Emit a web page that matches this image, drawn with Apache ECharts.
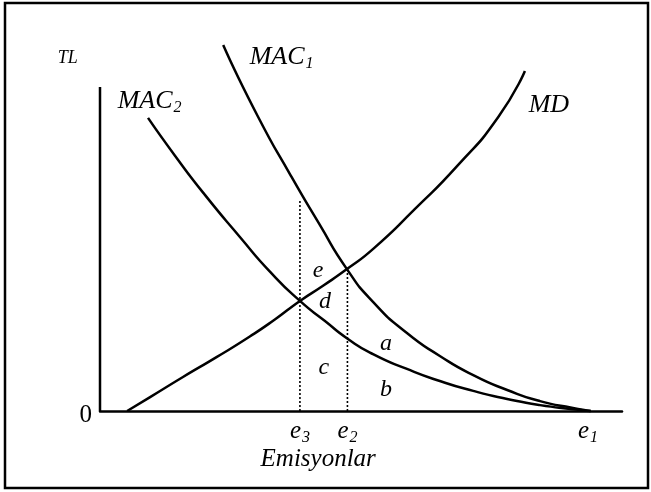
<!DOCTYPE html>
<html>
<head>
<meta charset="utf-8">
<script src="https://cdn.jsdelivr.net/npm/echarts@6/dist/echarts.min.js"></script>
<style>
  html, body { margin: 0; padding: 0; background: #fff; }
  #chart { width: 651px; height: 492px; }
</style>
</head>
<body>
<div id="chart"></div>
<script>
// curves: [emissions, TL]
var mac1 = [[2.36, 11.84], [3.03, 9.51], [3.66, 7.60], [4.20, 6.05], [4.73, 4.59], [5.23, 3.53],
  [5.88, 2.52], [6.51, 1.78], [7.15, 1.16], [7.80, 0.68], [8.43, 0.32], [9.06, 0.10], [9.40, 0]];
var mac2 = [[0.92, 9.48], [1.44, 8.25], [2.01, 6.99], [2.68, 5.63], [3.26, 4.50], [3.83, 3.56],
  [4.31, 2.91], [4.75, 2.33], [5.23, 1.84], [5.88, 1.36], [6.51, 0.97], [7.15, 0.65], [7.80, 0.39],
  [8.43, 0.19], [9.06, 0.06], [9.40, 0]];
var md = [[0.52, 0], [0.96, 0.45], [1.59, 1.10], [2.24, 1.75], [2.87, 2.41], [3.35, 2.96], [3.83, 3.56],
  [4.28, 4.06], [4.73, 4.59], [5.25, 5.27], [6.03, 6.53], [6.84, 7.92], [7.63, 9.51], [8.14, 11.00]];

// emission levels on the x axis
var eLevels = [3.83, 4.74, 9.35];
var eSubs = ['3', '2', '1'];
var yTop = 10.48;
var e3Top = 6.85;
var e2Top = 4.59;

// text annotations
var labelTexts = ['TL', 'MAC', 'MAC', 'MD', 'e', 'd', 'a', 'c', 'b', 'Emisyonlar'];
var labelSubs = ['', '1', '2', '', '', '', '', '', '', ''];
var labelX = [-0.62, 3.48, 0.95, 8.60, 4.18, 4.31, 5.48, 4.29, 5.48, 4.18];
var labelY = [11.42, 11.45, 10.03, 9.90, 4.53, 3.53, 2.17, 1.39, 0.68, -1.58];
var labelSizes = [18, 26, 26, 26, 24, 24, 24, 24, 24, 25];

var serif = '"Liberation Serif", "DejaVu Serif", serif';

function richFor(size) {
  return {
    m: { fontFamily: serif, fontStyle: 'italic', fontSize: size, color: '#000', textBorderWidth: 0 },
    s: { fontFamily: serif, fontStyle: 'italic', fontSize: Math.round(size * 0.62), color: '#000',
      textBorderWidth: 0, padding: [Math.round(size * 0.5), 0, 0, 1] }
  };
}

var labelData = labelTexts.map(function (t, i) {
  return {
    value: [labelX[i], labelY[i]],
    label: {
      formatter: '{m|' + t + '}' + (labelSubs[i] ? '{s|' + labelSubs[i] + '}' : ''),
      rich: richFor(labelSizes[i])
    }
  };
});

var blackLine = { color: '#000', width: 2.5 };
var curveBase = { type: 'line', smooth: 0.6, symbol: 'none', lineStyle: blackLine, clip: false };

var chart = echarts.init(document.getElementById('chart'));
var option = {
  backgroundColor: '#fff',
  animation: false,
  grid: { left: 100, right: 29, top: 40, bottom: 81 },
  xAxis: {
    type: 'value', min: 0, max: 10,
    axisLine: { lineStyle: blackLine },
    axisTick: { show: false },
    splitLine: { show: false },
    axisLabel: {
      customValues: eLevels,
      margin: 6,
      formatter: function (v) {
        var i = eLevels.indexOf(v);
        return '{m|e}{s|' + (i >= 0 ? eSubs[i] : '') + '}';
      },
      rich: richFor(25)
    }
  },
  yAxis: {
    type: 'value', min: 0, max: 12,
    axisLine: { show: false },
    axisTick: { show: false },
    splitLine: { show: false },
    axisLabel: {
      customValues: [0],
      margin: 8,
      color: '#000',
      fontFamily: serif,
      fontSize: 25,
      verticalAlign: 'top',
      lineHeight: 8
    }
  },
  series: [
    { type: 'line', data: [[0, 0], [0, yTop]], symbol: 'none', lineStyle: blackLine, silent: true },
    Object.assign({ data: mac1 }, curveBase),
    Object.assign({ data: mac2 }, curveBase),
    Object.assign({ data: md }, curveBase),
    { type: 'line', data: [[eLevels[0], 0], [eLevels[0], e3Top]], symbol: 'none',
      lineStyle: { color: '#000', width: 1.6, type: [2, 2] } },
    { type: 'line', data: [[eLevels[1], 0], [eLevels[1], e2Top]], symbol: 'none',
      lineStyle: { color: '#000', width: 1.6, type: [2, 2] } },
    {
      type: 'scatter', data: labelData, symbolSize: 0, clip: false, silent: true,
      itemStyle: { color: '#000', opacity: 1 },
      label: { show: true, position: 'inside', color: '#000', textBorderWidth: 0 }
    }
  ],
  graphic: [{
    type: 'rect',
    shape: { x: 5, y: 3, width: 643, height: 485 },
    style: { fill: 'none', stroke: '#000', lineWidth: 2.5 },
    silent: true
  }]
};
chart.setOption(option);
</script>
</body>
</html>
